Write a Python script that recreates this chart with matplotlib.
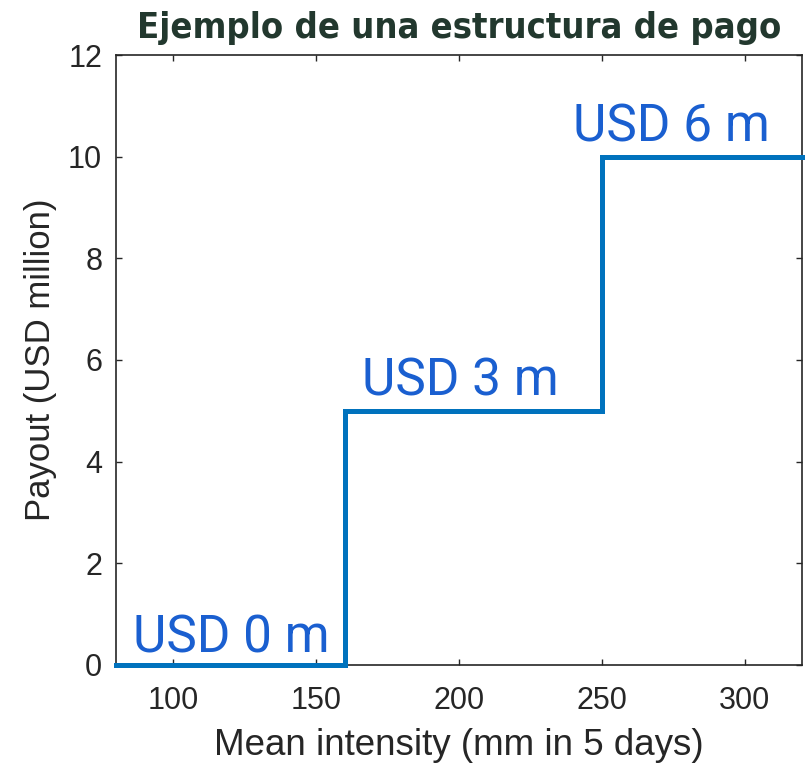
import matplotlib
matplotlib.use('Agg')
import matplotlib.pyplot as plt

# step payout structure
intensity = [80, 160, 250, 320]
payout = [0, 5, 10, 10]
labels = ['USD 0 m', 'USD 3 m', 'USD 6 m']
label_x = [86, 166, 240]
label_y = [0.25, 5.3, 10.3]

xticks = [100, 150, 200, 250, 300]
yticks = [0, 2, 4, 6, 8, 10, 12]

fig = plt.figure(figsize=(8.06, 7.64), dpi=100)
ax = fig.add_axes([0.144, 0.1296, 0.851, 0.7984])

ax.step(intensity, payout, where='post', color='#0072BD', linewidth=3.6,
        clip_on=False, solid_joinstyle='miter', zorder=3)

for t, x, y in zip(labels, label_x, label_y):
    ax.text(x, y, t, color='#1a5fd0', fontsize=37, family='Roboto',
            fontweight='normal', va='baseline', ha='left')

ax.set_xlim(80, 320)
ax.set_ylim(0, 12)
ax.set_xticks(xticks)
ax.set_yticks(yticks)
ax.tick_params(direction='in', length=4, width=1, top=True, right=True,
               labelsize=22, labelcolor='#262626', colors='#262626')
ax.tick_params(axis='x', pad=15)
ax.tick_params(axis='y', pad=10)
for lab in ax.get_xticklabels() + ax.get_yticklabels():
    lab.set_family('Liberation Sans')
    lab.set_color('#262626')
for s in ax.spines.values():
    s.set_color('#262626')
    s.set_linewidth(1.2)

ax.set_xlabel('Mean intensity (mm in 5 days)', fontsize=26.5,
              family='Liberation Sans', color='#262626', labelpad=9)
ax.set_ylabel('Payout (USD million)', fontsize=25,
              family='Liberation Sans', color='#262626', labelpad=8)
ax.set_title('Ejemplo de una estructura de pago', fontsize=26,
             family='DejaVu Sans', fontstretch='condensed',
             fontweight='bold', color='#22382e', pad=12)

fig.savefig('out.png', dpi=100)
